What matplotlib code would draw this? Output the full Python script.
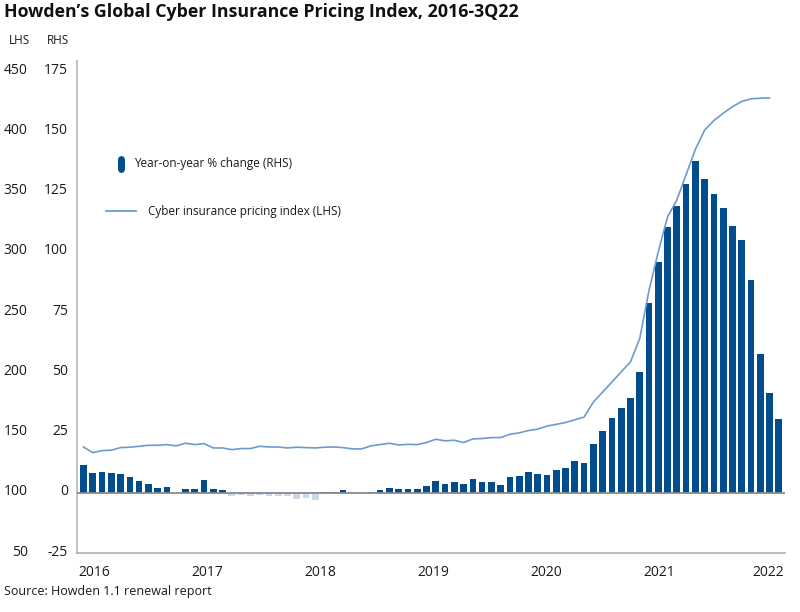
import numpy as np
import matplotlib
matplotlib.use('Agg')
import matplotlib.pyplot as plt
from matplotlib.lines import Line2D
from matplotlib.transforms import ScaledTranslation

plt.rcParams['font.family'] = ['Open Sans', 'DejaVu Sans']

# ---------------- data ----------------
year_labels = ['2016', '2017', '2018', '2019', '2020', '2021', '2022']

# Year-on-year % change (RHS), monthly bars
yoy_change = [
    11.5, 8.2, 8.6, 8.2, 7.8, 6.4, 4.7, 3.6, 1.9, 2.2, 0.0, 1.5,
    1.5, 5.3, 1.5, 1.3, -1.4, -0.8, -1.5, -0.8, -1.2, -1.5, -1.5, -2.7,
    -2.1, -2.8, 0.3, 0.4, 1.0, 0.0, 0.1, 0.4, 1.1, 2.1, 1.6, 1.45,
    1.4, 2.9, 4.9, 3.5, 4.4, 3.75, 5.7, 4.4, 4.3, 3.1, 6.4, 6.9,
    8.75, 7.85, 7.4, 9.4, 10.1, 13.3, 12.4, 20.4, 25.6, 31.1, 35.0, 39.2,
    50.3, 78.6, 95.7, 110.5, 119.2, 128.3, 137.5, 130.4, 124.0, 118.3, 110.8, 104.9,
    88.2, 57.4, 41.4, 30.6,
]

# Cyber insurance pricing index (LHS), monthly
pricing_index = [
    138.0, 133.3, 135.0, 135.3, 137.5, 137.8, 138.6, 139.4, 139.4, 140.0, 138.9, 141.1,
    140.0, 140.8, 137.2, 137.2, 135.8, 136.7, 136.7, 138.6, 138.0, 138.0, 137.2, 137.8,
    137.5, 137.2, 137.8, 138.0, 137.5, 136.4, 136.4, 138.9, 140.0, 141.1, 139.7, 140.2,
    140.0, 141.7, 144.4, 143.1, 143.6, 141.7, 144.7, 145.0, 145.8, 145.8, 148.6, 149.7,
    151.7, 152.8, 155.4, 156.8, 158.3, 160.6, 162.8, 175.3, 183.6, 191.9, 200.3, 208.6,
    228.0, 268.0, 300.0, 329.0, 343.0, 364.0, 385.0, 401.0, 409.0, 415.0, 420.5, 424.8,
    427.0, 427.5, 427.8,
]

lhs_ticks = [50, 100, 150, 200, 250, 300, 350, 400, 450]
rhs_ticks = [-25, 0, 25, 50, 75, 100, 125, 150, 175]

# ---------------- style ----------------
W, H = 800, 612
DARK = '#004c8c'
LIGHT = '#c9d9ea'
LINE = '#6b9bcf'
TXT = '#1a1a1a'

fig = plt.figure(figsize=(W / 100, H / 100), dpi=100)


def fx(px):
    return px / W


def fy(py):
    return 1 - py / H


ax = fig.add_axes([fx(77), fy(553), fx(785) - fx(77), fy(61) - fy(553)])
ax2 = ax.twinx()

x_bar = np.arange(len(yoy_change))
vals = np.array(yoy_change)
colors = [DARK if v >= 0 else LIGHT for v in vals]
ax.bar(x_bar, vals, width=0.72, color=colors, zorder=2)
ax.axhline(0, color='#8a8a8a', lw=1.3, zorder=3)

x_line = np.arange(len(pricing_index))
ax2.plot(x_line, pricing_index, color=LINE, lw=1.2, zorder=4)

# limits
ax.set_xlim(-0.70, len(yoy_change) - 1 + 0.67)
ax.set_ylim(-25, 179.2)
ax2.set_ylim(50, 458.4)

# ticks
ax.set_yticks(rhs_ticks)
ax.set_yticklabels([str(t) for t in rhs_ticks])
ax.tick_params(axis='y', length=0, pad=6.5, labelsize=10, labelcolor=TXT)

ax2.yaxis.tick_left()
ax2.set_yticks(lhs_ticks)
ax2.set_yticklabels([str(t) for t in lhs_ticks])
ax2.tick_params(axis='y', length=0, pad=35.5, labelsize=10, labelcolor=TXT,
                left=True, labelleft=True, right=False, labelright=False)

# reference draws value labels a few pixels above their gridline positions
shift = ScaledTranslation(0, 3 / 100, fig.dpi_scale_trans)
for lab in ax.get_yticklabels() + ax2.get_yticklabels():
    lab.set_transform(lab.get_transform() + shift)

year_pos = list(1.2 + 12.18 * np.arange(len(year_labels) - 1)) + [73.9]
ax.set_xticks(year_pos)
ax.set_xticklabels(year_labels)
ax.tick_params(axis='x', length=0, pad=9, labelsize=10, labelcolor=TXT)

for a in (ax, ax2):
    for s in ('top', 'right'):
        a.spines[s].set_visible(False)
ax2.spines['left'].set_visible(False)
ax2.spines['bottom'].set_visible(False)
ax.spines['left'].set_color('#c4c4c4')
ax.spines['left'].set_linewidth(1.5)
ax.spines['bottom'].set_color('#b0b0b0')
ax.spines['bottom'].set_linewidth(1.2)
ax.set_facecolor('none')
ax.set_zorder(ax2.get_zorder() - 1)
ax2.patch.set_visible(False)

# ---------------- texts ----------------
fig.text(fx(4), fy(12), 'Howden\u2019s Global Cyber Insurance Pricing Index, 2016-3Q22',
         fontsize=12.8, fontweight='bold', va='center', ha='left', color='#111111')
fig.text(fx(19), fy(40), 'LHS', fontsize=8.5, ha='center', va='center', color=TXT)
fig.text(fx(58), fy(40), 'RHS', fontsize=8.5, ha='center', va='center', color=TXT)
fig.text(fx(4), fy(591), 'Source: Howden 1.1 renewal report', fontsize=9,
         ha='left', va='center', color=TXT)

# legend (manual)
fig.add_artist(Line2D([fx(121), fx(121)], [fy(159), fy(169)], color=DARK, lw=5,
                      solid_capstyle='round', transform=fig.transFigure))
fig.text(fx(134), fy(164), 'Year-on-year % change (RHS)', fontsize=8.5,
         ha='left', va='center', color=TXT)
fig.add_artist(Line2D([fx(106), fx(136)], [fy(211), fy(211)], color=LINE, lw=1.3,
                      transform=fig.transFigure))
fig.text(fx(148), fy(211), 'Cyber insurance pricing index (LHS)', fontsize=8.5,
         ha='left', va='center', color=TXT)

fig.savefig('out.png', dpi=100)
